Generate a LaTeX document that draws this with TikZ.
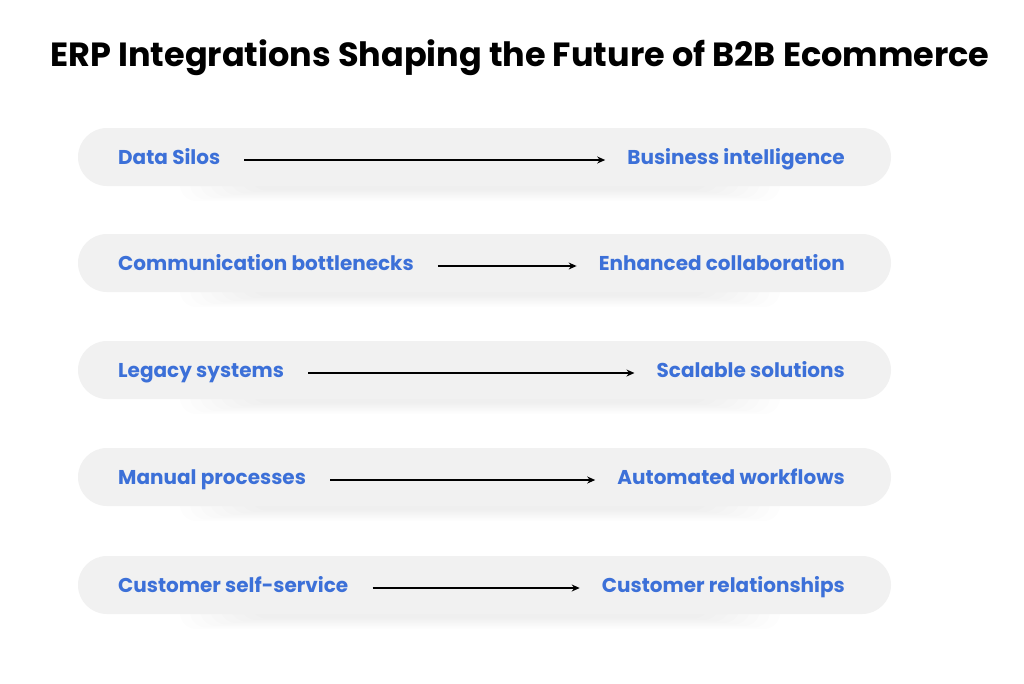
\documentclass[tikz,border=0pt]{standalone}
\usepackage{fontspec}
\setmainfont{Poppins}
\usetikzlibrary{arrows.meta,positioning}
\definecolor{barfill}{HTML}{F1F1F1}
\definecolor{labelblue}{HTML}{3C70D8}
\tikzset{
  bar/.style={fill=barfill, rounded corners=29pt},
  lbl/.style={font=\fontsize{20}{22}\selectfont\bfseries, text=labelblue, inner sep=0pt, text height=14pt, text depth=5pt},
  flow/.style={-{Stealth[length=8pt,width=7pt]}, line width=1.2pt, shorten <=24pt, shorten >=22pt}
}
\begin{document}
\begin{tikzpicture}[x=1pt,y=-1pt]
	\useasboundingbox[fill=white] (0,0) rectangle (1024,683);
	% Title
	\node (title) at (520,58) {\fontsize{33.5}{36}\selectfont\bfseries ERP Integrations Shaping the Future of B2B Ecommerce};
	
	% Rows
	\foreach \y/\l/\r [count=\i] in {157/Data Silos/Business intelligence,
		263/Communication bottlenecks/Enhanced collaboration,
		370/Legacy systems/Scalable solutions,
		477/Manual processes/Automated workflows,
		585/Customer self-service/Customer relationships}
	{
		\foreach \k in {1,...,8}
			\fill[black, opacity=0.006, rounded corners=16pt] (260-\k*10,\y+14-\k) rectangle (700+\k*10,\y+32+\k*1.5);
		\fill[bar] (78,\y-29) rectangle (891,\y+29);
		\node[lbl, anchor=west] (l\i) at (118,\y+3) {\l};
		\node[lbl, anchor=east] (r\i) at (845,\y+3) {\r};
		\draw[flow] (l\i) -- (r\i);
	}
\end{tikzpicture}
\end{document}
